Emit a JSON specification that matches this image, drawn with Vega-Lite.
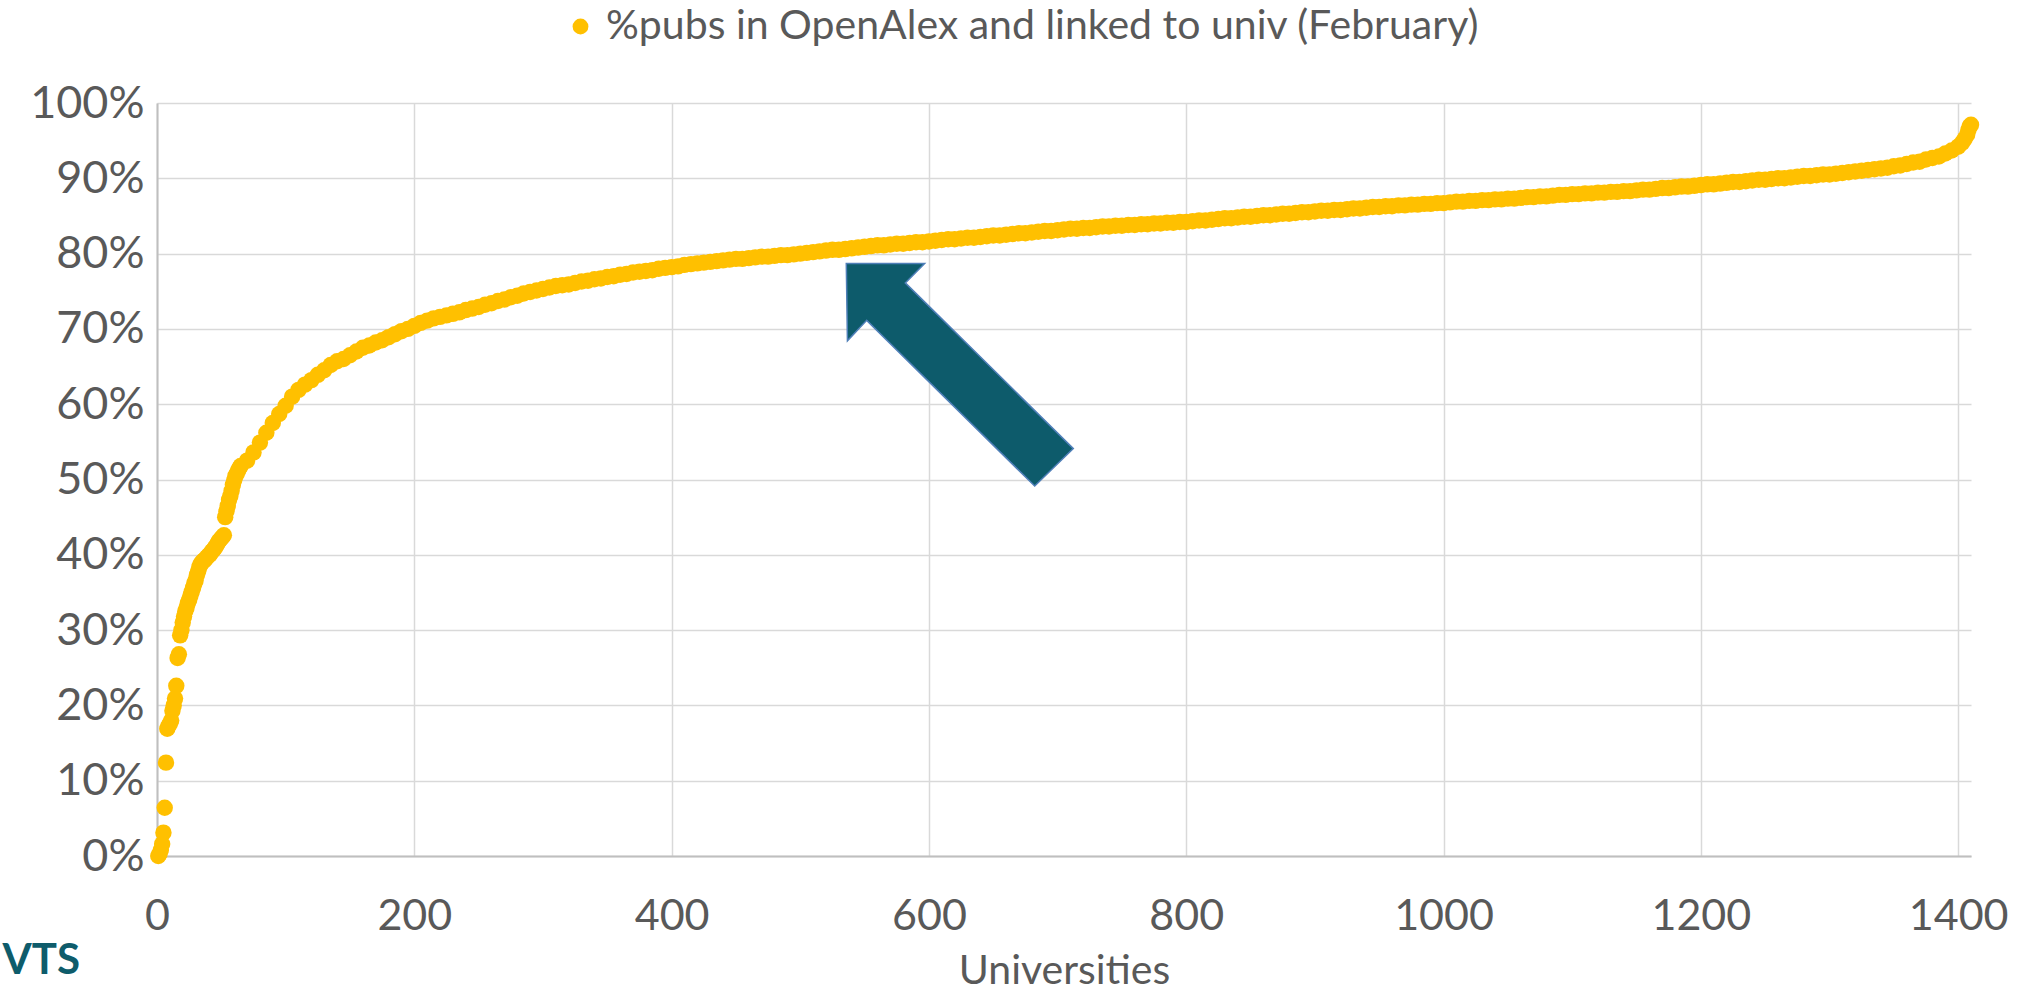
{
"$schema": "https://vega.github.io/schema/vega-lite/v6.json",
"width": 1814,
"height": 753,
"autosize": {"type": "none"},
"padding": {"left": 157, "top": 103, "right": 47, "bottom": 139},
"background": "white",
"config": {"font": "Lato", "view": {"stroke": null}},
"layer": [
{
"data": {"values": [
{"u":1,"p":0},{"u":2,"p":0.003},{"u":3,"p":0.008},{"u":4,"p":0.016},{"u":5,"p":0.031},{"u":6,"p":0.064},{"u":7,"p":0.124},{"u":8,"p":0.169},{"u":9,"p":0.173},{"u":10,"p":0.176},
{"u":11,"p":0.18},{"u":12,"p":0.193},{"u":13,"p":0.2},{"u":14,"p":0.209},{"u":15,"p":0.226},{"u":16,"p":0.263},{"u":17,"p":0.268},{"u":18,"p":0.293},{"u":19,"p":0.3},{"u":20,"p":0.31},
{"u":21,"p":0.318},{"u":22,"p":0.325},{"u":23,"p":0.33},{"u":24,"p":0.336},{"u":25,"p":0.34},{"u":26,"p":0.346},{"u":27,"p":0.351},{"u":28,"p":0.356},{"u":29,"p":0.362},{"u":30,"p":0.366},
{"u":31,"p":0.373},{"u":32,"p":0.378},{"u":33,"p":0.384},{"u":34,"p":0.388},{"u":35,"p":0.39},{"u":36,"p":0.392},{"u":37,"p":0.393},{"u":38,"p":0.395},{"u":39,"p":0.397},{"u":40,"p":0.399},
{"u":41,"p":0.4},{"u":42,"p":0.403},{"u":43,"p":0.405},{"u":44,"p":0.407},{"u":45,"p":0.409},{"u":46,"p":0.412},{"u":47,"p":0.415},{"u":48,"p":0.418},{"u":49,"p":0.42},{"u":50,"p":0.422},
{"u":51,"p":0.424},{"u":52,"p":0.426},{"u":53,"p":0.45},{"u":54,"p":0.458},{"u":55,"p":0.465},{"u":56,"p":0.473},{"u":57,"p":0.478},{"u":58,"p":0.485},{"u":59,"p":0.493},{"u":60,"p":0.499},
{"u":61,"p":0.505},{"u":62,"p":0.508},{"u":63,"p":0.512},{"u":64,"p":0.515},{"u":65,"p":0.518},{"u":70,"p":0.525},{"u":75,"p":0.536},{"u":80,"p":0.549},{"u":85,"p":0.562},{"u":90,"p":0.575},
{"u":95,"p":0.587},{"u":100,"p":0.598},{"u":105,"p":0.61},{"u":110,"p":0.619},{"u":115,"p":0.626},{"u":120,"p":0.632},{"u":125,"p":0.639},{"u":130,"p":0.645},{"u":135,"p":0.652},{"u":140,"p":0.657},
{"u":145,"p":0.66},{"u":150,"p":0.665},{"u":155,"p":0.67},{"u":160,"p":0.675},{"u":165,"p":0.678},{"u":170,"p":0.682},{"u":175,"p":0.685},{"u":180,"p":0.689},{"u":185,"p":0.693},{"u":190,"p":0.697},
{"u":195,"p":0.7},{"u":200,"p":0.704},{"u":205,"p":0.708},{"u":210,"p":0.711},{"u":215,"p":0.714},{"u":220,"p":0.716},{"u":225,"p":0.718},{"u":230,"p":0.72},{"u":235,"p":0.722},{"u":240,"p":0.725},
{"u":245,"p":0.727},{"u":250,"p":0.729},{"u":255,"p":0.732},{"u":260,"p":0.734},{"u":265,"p":0.737},{"u":270,"p":0.739},{"u":275,"p":0.742},{"u":280,"p":0.744},{"u":285,"p":0.747},{"u":290,"p":0.749},
{"u":295,"p":0.751},{"u":300,"p":0.753},{"u":305,"p":0.755},{"u":310,"p":0.757},{"u":315,"p":0.758},{"u":320,"p":0.759},{"u":325,"p":0.761},{"u":330,"p":0.763},{"u":335,"p":0.764},{"u":340,"p":0.766},
{"u":345,"p":0.767},{"u":350,"p":0.769},{"u":355,"p":0.77},{"u":360,"p":0.772},{"u":365,"p":0.773},{"u":370,"p":0.775},{"u":375,"p":0.776},{"u":380,"p":0.777},{"u":385,"p":0.778},{"u":390,"p":0.78},
{"u":395,"p":0.781},{"u":400,"p":0.782},{"u":405,"p":0.783},{"u":410,"p":0.785},{"u":415,"p":0.786},{"u":420,"p":0.787},{"u":425,"p":0.788},{"u":430,"p":0.789},{"u":435,"p":0.79},{"u":440,"p":0.791},
{"u":445,"p":0.792},{"u":450,"p":0.793},{"u":455,"p":0.793},{"u":460,"p":0.794},{"u":465,"p":0.795},{"u":470,"p":0.796},{"u":475,"p":0.796},{"u":480,"p":0.797},{"u":485,"p":0.798},{"u":490,"p":0.798},
{"u":495,"p":0.799},{"u":500,"p":0.8},{"u":505,"p":0.801},{"u":510,"p":0.802},{"u":515,"p":0.803},{"u":520,"p":0.804},{"u":525,"p":0.805},{"u":530,"p":0.805},{"u":535,"p":0.806},{"u":540,"p":0.807},
{"u":545,"p":0.808},{"u":550,"p":0.809},{"u":555,"p":0.81},{"u":560,"p":0.811},{"u":565,"p":0.811},{"u":570,"p":0.812},{"u":575,"p":0.813},{"u":580,"p":0.813},{"u":585,"p":0.814},{"u":590,"p":0.815},
{"u":595,"p":0.815},{"u":600,"p":0.816},{"u":605,"p":0.817},{"u":610,"p":0.818},{"u":615,"p":0.819},{"u":620,"p":0.819},{"u":625,"p":0.82},{"u":630,"p":0.821},{"u":635,"p":0.821},{"u":640,"p":0.822},
{"u":645,"p":0.823},{"u":650,"p":0.824},{"u":655,"p":0.824},{"u":660,"p":0.825},{"u":665,"p":0.826},{"u":670,"p":0.827},{"u":675,"p":0.827},{"u":680,"p":0.828},{"u":685,"p":0.829},{"u":690,"p":0.83},
{"u":695,"p":0.83},{"u":700,"p":0.831},{"u":705,"p":0.832},{"u":710,"p":0.833},{"u":715,"p":0.833},{"u":720,"p":0.834},{"u":725,"p":0.834},{"u":730,"p":0.835},{"u":735,"p":0.836},{"u":740,"p":0.836},
{"u":745,"p":0.837},{"u":750,"p":0.837},{"u":755,"p":0.838},{"u":760,"p":0.838},{"u":765,"p":0.839},{"u":770,"p":0.839},{"u":775,"p":0.84},{"u":780,"p":0.84},{"u":785,"p":0.841},{"u":790,"p":0.841},
{"u":795,"p":0.842},{"u":800,"p":0.842},{"u":805,"p":0.843},{"u":810,"p":0.844},{"u":815,"p":0.844},{"u":820,"p":0.845},{"u":825,"p":0.846},{"u":830,"p":0.847},{"u":835,"p":0.847},{"u":840,"p":0.848},
{"u":845,"p":0.849},{"u":850,"p":0.849},{"u":855,"p":0.85},{"u":860,"p":0.851},{"u":865,"p":0.851},{"u":870,"p":0.852},{"u":875,"p":0.853},{"u":880,"p":0.853},{"u":885,"p":0.854},{"u":890,"p":0.855},
{"u":895,"p":0.855},{"u":900,"p":0.856},{"u":905,"p":0.857},{"u":910,"p":0.857},{"u":915,"p":0.858},{"u":920,"p":0.858},{"u":925,"p":0.859},{"u":930,"p":0.86},{"u":935,"p":0.86},{"u":940,"p":0.861},
{"u":945,"p":0.862},{"u":950,"p":0.862},{"u":955,"p":0.863},{"u":960,"p":0.863},{"u":965,"p":0.864},{"u":970,"p":0.864},{"u":975,"p":0.865},{"u":980,"p":0.865},{"u":985,"p":0.866},{"u":990,"p":0.866},
{"u":995,"p":0.867},{"u":1000,"p":0.867},{"u":1005,"p":0.868},{"u":1010,"p":0.869},{"u":1015,"p":0.869},{"u":1020,"p":0.87},{"u":1025,"p":0.87},{"u":1030,"p":0.871},{"u":1035,"p":0.871},{"u":1040,"p":0.872},
{"u":1045,"p":0.872},{"u":1050,"p":0.873},{"u":1055,"p":0.873},{"u":1060,"p":0.874},{"u":1065,"p":0.875},{"u":1070,"p":0.875},{"u":1075,"p":0.876},{"u":1080,"p":0.876},{"u":1085,"p":0.877},{"u":1090,"p":0.878},
{"u":1095,"p":0.878},{"u":1100,"p":0.879},{"u":1105,"p":0.879},{"u":1110,"p":0.88},{"u":1115,"p":0.88},{"u":1120,"p":0.881},{"u":1125,"p":0.881},{"u":1130,"p":0.882},{"u":1135,"p":0.882},{"u":1140,"p":0.883},
{"u":1145,"p":0.883},{"u":1150,"p":0.884},{"u":1155,"p":0.885},{"u":1160,"p":0.885},{"u":1165,"p":0.886},{"u":1170,"p":0.887},{"u":1175,"p":0.887},{"u":1180,"p":0.888},{"u":1185,"p":0.889},{"u":1190,"p":0.889},
{"u":1195,"p":0.89},{"u":1200,"p":0.891},{"u":1205,"p":0.892},{"u":1210,"p":0.892},{"u":1215,"p":0.893},{"u":1220,"p":0.894},{"u":1225,"p":0.895},{"u":1230,"p":0.895},{"u":1235,"p":0.896},{"u":1240,"p":0.897},
{"u":1245,"p":0.898},{"u":1250,"p":0.898},{"u":1255,"p":0.899},{"u":1260,"p":0.9},{"u":1265,"p":0.9},{"u":1270,"p":0.901},{"u":1275,"p":0.902},{"u":1280,"p":0.903},{"u":1285,"p":0.903},{"u":1290,"p":0.904},
{"u":1295,"p":0.905},{"u":1300,"p":0.905},{"u":1305,"p":0.906},{"u":1310,"p":0.907},{"u":1315,"p":0.908},{"u":1320,"p":0.909},{"u":1325,"p":0.91},{"u":1330,"p":0.911},{"u":1335,"p":0.912},{"u":1340,"p":0.913},
{"u":1345,"p":0.914},{"u":1350,"p":0.916},{"u":1355,"p":0.917},{"u":1360,"p":0.919},{"u":1365,"p":0.921},{"u":1370,"p":0.922},{"u":1375,"p":0.925},{"u":1380,"p":0.927},{"u":1385,"p":0.929},{"u":1390,"p":0.933},
{"u":1395,"p":0.937},{"u":1400,"p":0.942},{"u":1403,"p":0.947},{"u":1405,"p":0.952},{"u":1407,"p":0.958},{"u":1408,"p":0.964},{"u":1409,"p":0.969},{"u":1410,"p":0.971}
]},
"mark": {"type": "circle", "size": 270, "opacity": 1},
"encoding": {
"x": {"field": "u", "type": "quantitative",
"scale": {"domain": [0, 1410], "nice": false, "zero": false},
"axis": {"values": [0, 200, 400, 600, 800, 1000, 1200, 1400], "format": "d", "title": "Universities",
"titleFontSize": 41, "titleColor": "#595959", "titleFontWeight": "normal", "titlePadding": 13,
"labelFontSize": 43, "labelColor": "#595959", "labelPadding": 39, "labelFlush": false,
"ticks": false, "domainColor": "#bfbfbf", "domainWidth": 2,
"gridColor": "#d9d9d9", "gridWidth": 1.5}},
"y": {"field": "p", "type": "quantitative",
"scale": {"domain": [0, 1], "nice": false},
"axis": {"values": [0, 0.1, 0.2, 0.3, 0.4, 0.5, 0.6, 0.7, 0.8, 0.9, 1], "format": ".0%", "title": null,
"labelFontSize": 45, "labelColor": "#595959", "labelPadding": 13,
"ticks": false, "domainColor": "#bfbfbf", "domainWidth": 2,
"gridColor": "#d9d9d9", "gridWidth": 1.5}},
"color": {"datum": "%pubs in OpenAlex and linked to univ (February)", "type": "nominal",
"scale": {"range": ["#FFC000"]},
"legend": {"orient": "none", "legendX": 403, "legendY": -97, "title": null, "direction": "horizontal",
"labelFontSize": 41, "labelColor": "#595959", "labelLimit": 2000, "labelOffset": 5,
"symbolType": "circle", "symbolSize": 250, "symbolStrokeWidth": 0}}
}
},
{
"data": {"values": [{"u": 624, "p": 0.639}]},
"mark": {"type": "point", "shape": "M-1,-0.98L-0.31,-0.98L-0.48,-0.81L1,0.65L0.66,0.98L-0.82,-0.48L-0.99,-0.3Z",
"size": 51529, "filled": true, "fill": "#0d5b6b", "stroke": "#4f7fb8", "strokeWidth": 1.5, "opacity": 1},
"encoding": {"x": {"field": "u", "type": "quantitative"}, "y": {"field": "p", "type": "quantitative"}}
},
{
"data": {"values": [{"u": -120, "p": -0.14, "t": "VTS"}]},
"mark": {"type": "text", "align": "left", "baseline": "middle", "fontSize": 42, "fontWeight": "bold", "color": "#0e5c6b"},
"encoding": {"x": {"field": "u", "type": "quantitative"}, "y": {"field": "p", "type": "quantitative"}, "text": {"field": "t"}}
}
]
}
